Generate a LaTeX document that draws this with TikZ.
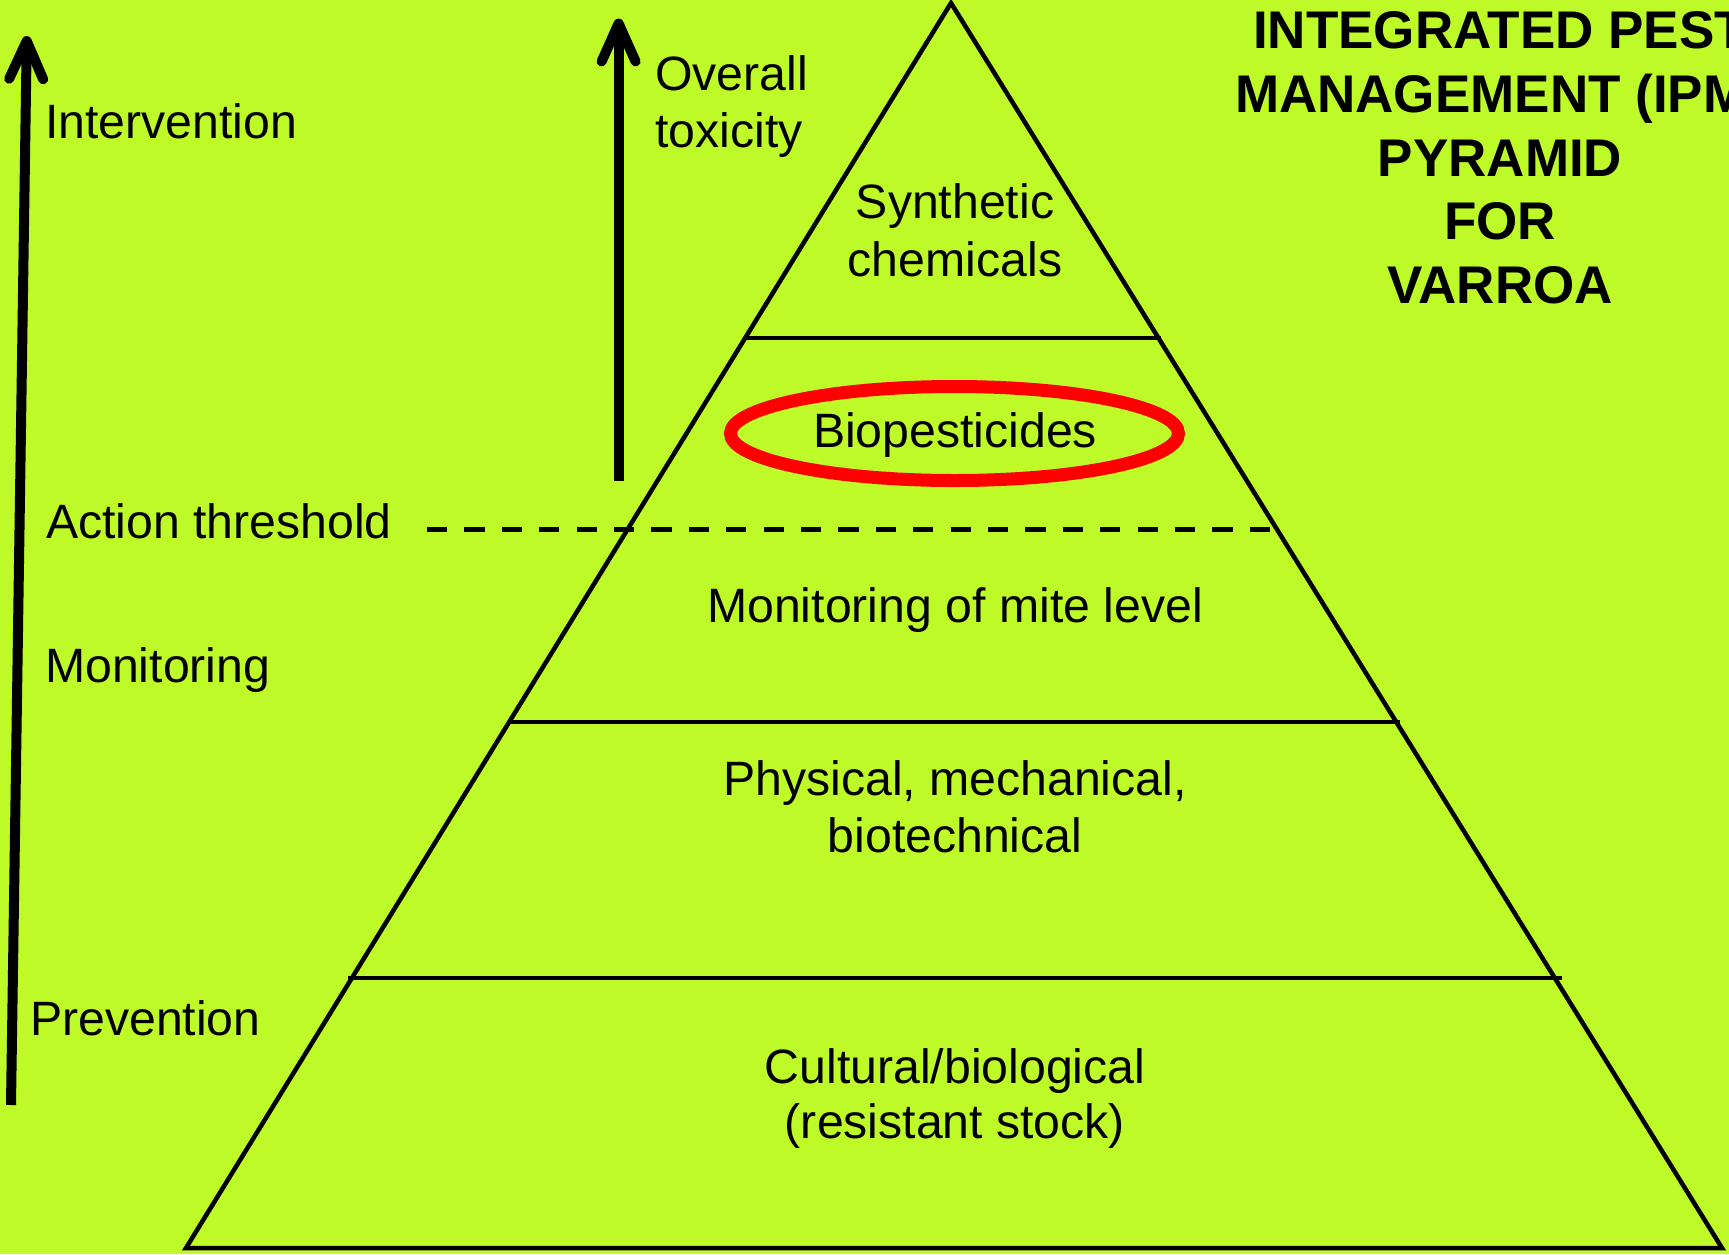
\documentclass[tikz,border=0pt]{standalone}
\usepackage{fontspec}
\setmainfont{Liberation Sans}
\usetikzlibrary{arrows.meta}
\definecolor{bgc}{RGB}{190,250,40}
\definecolor{ringc}{RGB}{255,0,0}
\begin{document}
\begin{tikzpicture}[x=1pt,y=-1pt,
  lbl/.style={inner sep=0pt, font=\fontsize{48.2}{57}\selectfont},
  ttl/.style={inner sep=0pt, anchor=base, font=\fontsize{53}{64}\selectfont\bfseries},
  edgeline/.style={line width=4.5pt},
  thresh/.style={line width=5pt, dash pattern=on 20.2pt off 17.2pt},
  ringline/.style={draw=ringc, line width=13pt},
  bigarrow/.style={line width=10pt, -{Straight Barb[length=38pt,width=34pt,round]}}]
\fill[bgc] (0,0) rectangle (1729,1254);
\clip (0,0) rectangle (1729,1254);
% pyramid
\coordinate (apex) at (951,3);
\coordinate (bl) at (186,1248);
\coordinate (br) at (1722,1248);
\draw[edgeline, line join=miter] (bl) -- (apex) -- (br) -- cycle;
\coordinate (l1a) at (745,338);  \coordinate (l1b) at (1161,338);
\coordinate (l2a) at (509,722);  \coordinate (l2b) at (1400,722);
\coordinate (l3a) at (348,978);  \coordinate (l3b) at (1562,978);
\draw[edgeline] (l1a) -- (l1b);
\draw[edgeline] (l2a) -- (l2b);
\draw[edgeline] (l3a) -- (l3b);
% action threshold
\coordinate (da) at (427,529); \coordinate (db) at (1270,529);
\draw[thresh] (da) -- (db);
% arrows
\coordinate (a1s) at (11,1105); \coordinate (a1e) at (26.8,36);
\draw[bigarrow] (a1s) -- (a1e);
\coordinate (a2s) at (618.6,481); \coordinate (a2e) at (618.6,18.5);
\draw[bigarrow] (a2s) -- (a2e);
% ellipse
\coordinate (ec) at (954.5,433.5);
\draw[ringline] (ec) ellipse [x radius=224pt, y radius=47pt];
% left labels
\node[lbl, anchor=base west] (intv) at (45,138) {Intervention};
\node[lbl, anchor=base west] (ovr) at (655,90) {Overall};
\node[lbl, anchor=base west] (tox) at (655,147) {toxicity};
\node[lbl, anchor=base west] (act) at (46,538) {Action threshold};
\node[lbl, anchor=base west] (mon) at (45,682) {Monitoring};
\node[lbl, anchor=base west] (prev) at (30,1035) {Prevention};
% pyramid labels
\node[lbl, anchor=base] (syn1) at (955,218) {Synthetic};
\node[lbl, anchor=base] (syn2) at (955,276) {chemicals};
\node[lbl, anchor=base] (bio) at (955,447) {Biopesticides};
\node[lbl, anchor=base] (mml) at (955,622) {Monitoring of mite level};
\node[lbl, anchor=base] (phy1) at (955,795) {Physical, mechanical,};
\node[lbl, anchor=base] (phy2) at (955,852) {biotechnical};
\node[lbl, anchor=base] (cul1) at (955,1083) {Cultural/biological};
\node[lbl, anchor=base] (cul2) at (955,1138) {(resistant stock)};
% title
\node[ttl] (t1) at (1500,48) {INTEGRATED PEST};
\node[ttl] (t2) at (1500,112) {MANAGEMENT (IPM)};
\node[ttl] (t3) at (1500,176) {PYRAMID};
\node[ttl] (t4) at (1500,239) {FOR};
\node[ttl] (t5) at (1500,303) {VARROA};
\end{tikzpicture}
\end{document}
